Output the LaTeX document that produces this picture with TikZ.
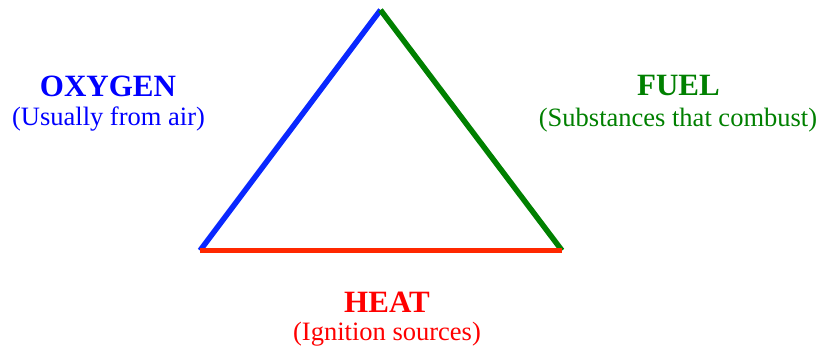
\documentclass[tikz,border=0pt]{standalone}
\usepackage{fontspec}
\setmainfont{Liberation Serif}
\newfontfamily\timesfont{Liberation Serif}
\usetikzlibrary{calc,positioning}
\definecolor{oxyblue}{RGB}{10,40,255}
\definecolor{oxytext}{RGB}{0,0,255}
\definecolor{fuelgreen}{RGB}{0,128,0}
\definecolor{heatred}{RGB}{255,40,0}
\definecolor{heattext}{RGB}{255,0,0}
\tikzset {
  side/.style={line width=5.5pt},
  title/.style={anchor=base,font=\timesfont\fontsize{31}{36}\selectfont\bfseries},
  sub/.style={anchor=base,font=\timesfont\fontsize{26.5}{30}\selectfont},
}

\begin{document}
\begin{tikzpicture}[x=1pt,y=-1pt]
          \useasboundingbox (0,0) rectangle (822,350);
          \coordinate (top) at (380.5,10);
          \coordinate (left) at (200,250.5);
          \coordinate (right) at (562,250.5);

          \draw[side,oxyblue] (left) -- (top);
          \draw[side,fuelgreen] (top) -- (right);
          \draw[side,heatred] (left) -- (right);

          \node[title,text=oxytext] (oxygen) at (108,97) {OXYGEN};
          \node[sub,text=oxytext] (oxygensub) at (108.5,126) {(Usually from air)};

          \node[title,text=fuelgreen] (fuel) at (678.5,96) {FUEL};
          \node[sub,text=fuelgreen] (fuelsub) at (678,127) {(Substances that combust)};

          \node[title,text=heattext] (heat) at (387,312) {HEAT};
          \node[sub,text=heattext] (heatsub) at (387,340) {(Ignition sources)};
        \end{tikzpicture}
\end{document}
